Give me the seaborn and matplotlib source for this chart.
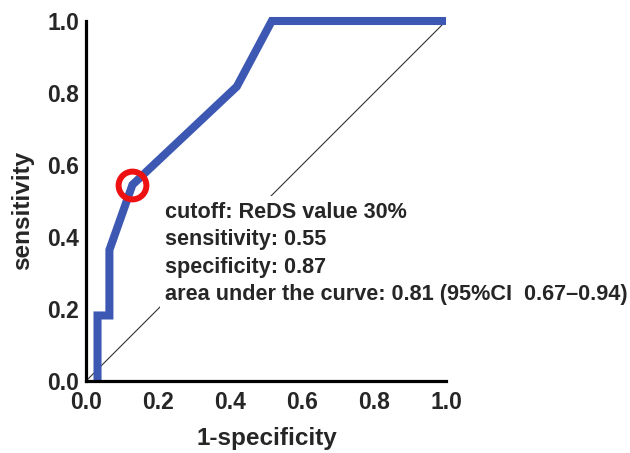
import matplotlib
matplotlib.use("Agg")
import matplotlib.pyplot as plt
import seaborn as sns
import pandas as pd

# ROC curve data
fpr = [0.032, 0.032, 0.065, 0.065, 0.129, 0.419, 0.516, 1.0]
tpr = [0.0, 0.182, 0.182, 0.364, 0.545, 0.818, 1.0, 1.0]
ref_x = [0.0, 1.0]
ref_y = [0.0, 1.0]
cut_x = [0.129]
cut_y = [0.545]
ticks = [0.0, 0.2, 0.4, 0.6, 0.8, 1.0]
tick_labels = ["0.0", "0.2", "0.4", "0.6", "0.8", "1.0"]
info_lines = [
    "cutoff: ReDS value 30%",
    "sensitivity: 0.55",
    "specificity: 0.87",
    "area under the curve: 0.81 (95%CI  0.67\u20130.94)",
]

sns.set_style("white")
plt.rcParams['font.family'] = ['Liberation Sans', 'DejaVu Sans']
plt.rcParams['font.weight'] = 'bold'

fig = plt.figure(figsize=(6.3, 4.53), dpi=100)
ax = fig.add_axes([86/630, 1-381/453, 360/630, 360/453])

roc = pd.DataFrame({"fpr": fpr, "tpr": tpr})
ref = pd.DataFrame({"x": ref_x, "y": ref_y})
cut = pd.DataFrame({"x": cut_x, "y": cut_y})

sns.lineplot(data=ref, x="x", y="y", ax=ax, color="#333333", lw=0.8,
             estimator=None, sort=False, zorder=1)
sns.lineplot(data=roc, x="fpr", y="tpr", ax=ax, color="#3D58B3", lw=5.8,
             estimator=None, sort=False, zorder=3, clip_on=False,
             solid_joinstyle="miter", solid_capstyle="butt")
ax.plot(cut["x"], cut["y"], marker="o", ms=20, mfc="none", mec="#EE1111",
        mew=4.3, ls="none", zorder=4, clip_on=False)

ax.text(0.22, 0.497, "\n".join(info_lines), transform=ax.transData,
        fontsize=15.6, fontweight="bold", va="top", ha="left",
        linespacing=1.4, zorder=2,
        bbox=dict(facecolor="white", edgecolor="none", pad=4))

ax.set_xlim(0, 1)
ax.set_ylim(0, 1)
ax.set_xticks(ticks)
ax.set_xticklabels(tick_labels)
ax.set_yticks(ticks)
ax.set_yticklabels(tick_labels)
ax.tick_params(axis="both", direction="out", length=4, width=1.3,
               labelsize=16.5, pad=1, color="black")
ax.tick_params(axis="x", pad=3)
for lab in ax.get_xticklabels() + ax.get_yticklabels():
    lab.set_fontweight("bold")
for s in ["top", "right"]:
    ax.spines[s].set_visible(False)
for s in ["left", "bottom"]:
    ax.spines[s].set_linewidth(2.3)
    ax.spines[s].set_color("black")
    ax.spines[s].set_zorder(5)
ax.set_xlabel("1-specificity", fontsize=17.5, fontweight="bold")
ax.set_ylabel("sensitivity", fontsize=17.5, fontweight="bold")
ax.xaxis.set_label_coords(0.503, -0.128)
ax.yaxis.set_label_coords(-0.144, 0.475)

fig.savefig("out.png", dpi=100, facecolor="white")
